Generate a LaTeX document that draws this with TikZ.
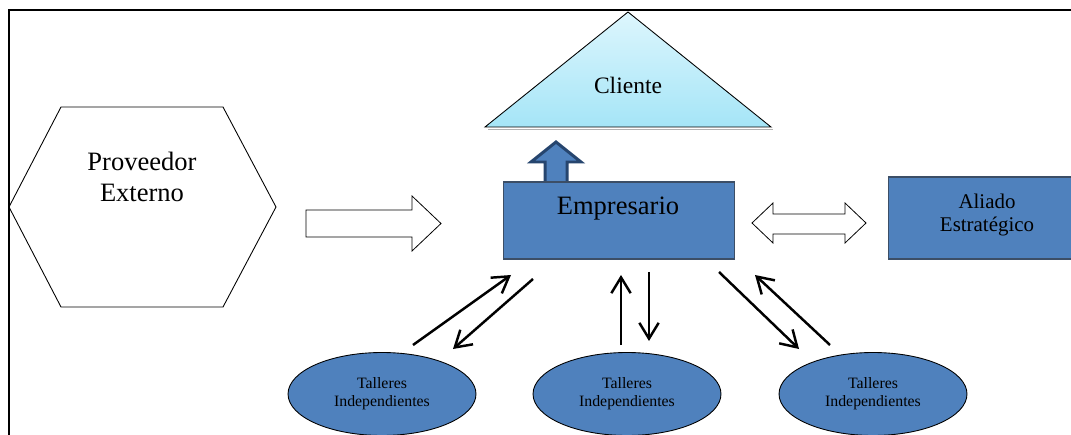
\documentclass[tikz,border=0pt]{standalone}
\usepackage{fontspec}
\setmainfont{Liberation Serif}
\usetikzlibrary{arrows.meta,shapes.geometric}
\definecolor{boxblue}{HTML}{4F81BD}
\definecolor{boxedge}{HTML}{3C4E66}
\definecolor{darkedge}{HTML}{26456E}
\definecolor{skytop}{HTML}{DDF6FD}
\definecolor{skybot}{HTML}{A5E5F7}
\tikzset{
  bluebox/.style={fill=boxblue, draw=boxedge, line width=0.6pt},
  taller/.style={ellipse, fill=boxblue, draw=black, line width=0.5pt,
    minimum width=3.76cm, minimum height=1.66cm, inner sep=0pt,
    align=center, font=\fontsize{9}{10.2}\selectfont},
  hollow/.style={draw=black, fill=white, line width=0.45pt, line join=miter},
  flow/.style={line width=1.4pt, -{Straight Barb[length=9pt,width=11pt,line width=1.4pt]}},
  lbl/.style={align=center, inner sep=0pt}
}
\begin{document}
\begin{tikzpicture}[x=0.02cm, y=-0.02cm]
  \useasboundingbox (0,0) rectangle (1071,435);
  \clip (0,0) rectangle (1071,435);

  % frame of the page
  \draw[line width=1.2pt] (9,435) -- (9,10) -- (1075,10);

  % supplier hexagon
  \draw[line width=0.5pt] (9,207) -- (61,107) -- (223,107) -- (276,207)
        -- (223,307) -- (61,307) -- cycle;
  \node[lbl, font=\fontsize{15.1}{18.1}\selectfont] (prov) at (142,177) {Proveedor\\Externo};

  % client triangle with its shadow
  \draw[gray!60, line width=1.1pt] (488,129.5) -- (773,129.5);
  \shade[top color=skytop, bottom color=skybot, draw=black, line width=0.5pt]
        (628,12) -- (771,127) -- (485,127) -- cycle;
  \node[lbl, font=\fontsize{13.4}{16}\selectfont] (cli) at (628,85) {Cliente};

  % entrepreneur box
  \node[bluebox, minimum width=4.62cm, minimum height=1.54cm, inner sep=0pt] (emp) at (619,220.5) {};
  \node[lbl, font=\fontsize{15.1}{18.1}\selectfont] (emptxt) at (618,209) {Empresario};

  % thick block arrow towards the client
  \draw[fill=boxblue, draw=darkedge, line width=1.7pt, line join=miter]
        (545,181) -- (545,162) -- (531,162) -- (556,142) -- (581,162)
        -- (567,162) -- (567,181);

  % strategic ally box
  \node[bluebox, minimum width=3.96cm, minimum height=1.64cm, inner sep=0pt] (ali) at (987,218) {};
  \node[lbl, font=\fontsize{11.9}{13.2}\selectfont] (alitxt) at (987,215) {Aliado\\Estratégico};

  % hollow arrow from the supplier
  \draw[hollow] (306,210) -- (412,210) -- (412,196) -- (441,223.5)
        -- (412,251) -- (412,237) -- (306,237) -- cycle;

  % hollow double arrow with the ally
  \draw[hollow] (752,223) -- (773,203) -- (773,214) -- (845,214) -- (845,203)
        -- (866,223) -- (845,243) -- (845,234) -- (773,234) -- (773,243) -- cycle;

  % independent workshops
  \node[taller] (t1) at (382,394) {Talleres\\Independientes};
  \node[taller] (t2) at (627,394) {Talleres\\Independientes};
  \node[taller] (t3) at (873,394) {Talleres\\Independientes};

  % exchange arrows between the box and the workshops
  \coordinate (a1s) at (413,345); \coordinate (a1e) at (511,275);
  \coordinate (b1s) at (533,279); \coordinate (b1e) at (453,349);
  \coordinate (a2s) at (621,345); \coordinate (a2e) at (621,275);
  \coordinate (b2s) at (649,272); \coordinate (b2e) at (649,341);
  \coordinate (b3s) at (719,272); \coordinate (b3e) at (799,349);
  \coordinate (a3s) at (830,345); \coordinate (a3e) at (755,275);
  \draw[flow] (a1s) -- (a1e);
  \draw[flow] (b1s) -- (b1e);
  \draw[flow] (a2s) -- (a2e);
  \draw[flow] (b2s) -- (b2e);
  \draw[flow] (b3s) -- (b3e);
  \draw[flow] (a3s) -- (a3e);
\end{tikzpicture}
\end{document}
